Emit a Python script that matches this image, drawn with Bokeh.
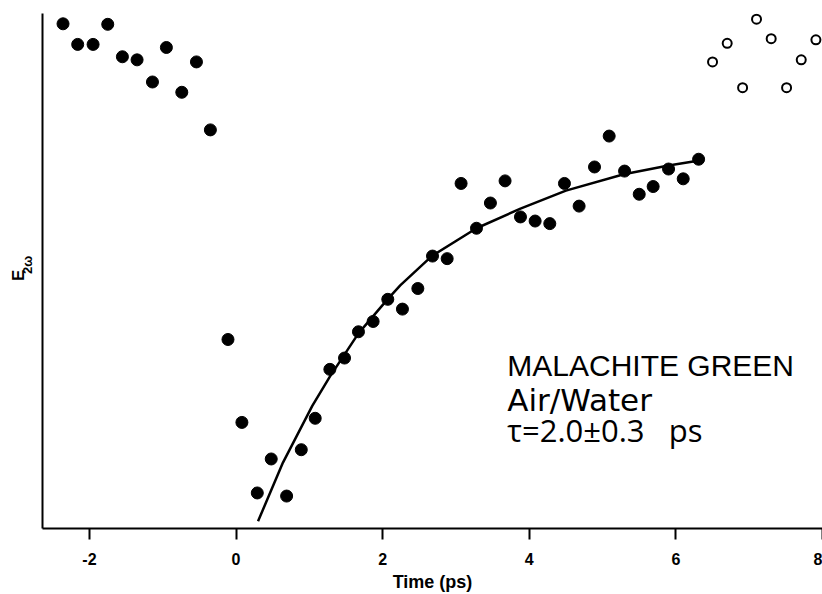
from bokeh.plotting import figure
from bokeh.models import FixedTicker, Range1d
from bokeh.layouts import row
from bokeh.core.properties import value
from bokeh.embed import file_html
from bokeh.resources import INLINE

# Measured data (time in ps, signal in arbitrary units 0-100)
t_filled = [-2.36, -2.16, -1.95, -1.75, -1.55, -1.35, -1.14, -0.95, -0.74, -0.54, -0.35,
            -0.11, 0.08, 0.29, 0.48, 0.69, 0.89, 1.08, 1.28, 1.48, 1.67, 1.87, 2.07, 2.27,
            2.48, 2.68, 2.88, 3.07, 3.28, 3.47, 3.67, 3.88, 4.08, 4.28, 4.48, 4.68, 4.89,
            5.09, 5.30, 5.50, 5.69, 5.90, 6.10, 6.31]
y_filled = [98.0, 94.0, 94.0, 97.9, 91.6, 91.0, 86.7, 93.4, 84.7, 90.6, 77.4,
            36.7, 20.6, 6.9, 13.5, 6.3, 15.3, 21.4, 30.9, 33.1, 38.2, 40.2, 44.5, 42.6,
            46.6, 52.9, 52.4, 67.0, 58.3, 63.2, 67.5, 60.5, 59.7, 59.2, 67.0, 62.6, 70.2,
            76.2, 69.4, 64.9, 66.4, 69.8, 67.9, 71.7]

t_open = [6.50, 6.70, 6.91, 7.10, 7.30, 7.51, 7.71, 7.91]
y_open = [90.6, 94.2, 85.6, 98.9, 95.1, 85.6, 91.0, 94.9]

# Fitted curve
t_fit = [0.30, 0.64, 1.04, 1.28, 1.67, 2.06, 2.24, 2.67, 3.28, 3.88, 4.50, 5.29, 5.90, 6.30]
y_fit = [1.4, 12.8, 23.8, 29.5, 37.9, 44.4, 47.2, 52.9, 58.3, 62.1, 65.6, 68.8, 70.5, 71.4]

x_ticks = [-2, 0, 2, 4, 6, 8]
x_tick_labels = {-2: "-2"}

annot_lines = ["MALACHITE GREEN", "Air/Water", "\u03c4=2.0\u00b10.3\u00a0\u00a0 ps"]

# ---- narrow panel holding the rotated y label ----
lab = figure(width=36, height=594, x_range=Range1d(0, 36), y_range=Range1d(0, 594),
             output_backend="svg", toolbar_location=None, x_axis_type=None, y_axis_type=None,
             min_border_left=0, min_border_right=0, min_border_top=0, min_border_bottom=0)
lab.outline_line_color = None
lab.grid.visible = False
lab.text(x=[17.5], y=[292.0], text=["E"], angle=1.5708, text_font=value("Liberation Sans"),
         text_font_style="bold", text_font_size="17px", text_color="black",
         text_align="center", text_baseline="middle")
lab.text(x=[26.9], y=[304.1], text=["2\u03c9"], angle=1.5708, text_font=value("Liberation Sans"),
         text_font_style="bold", text_font_size="13px", text_color="black",
         text_align="center", text_baseline="middle")

# ---- main plot ----
p = figure(width=786, height=594, x_range=Range1d(-2.64, 8.0), y_range=Range1d(0, 100),
           output_backend="svg", toolbar_location=None,
           min_border_left=6, min_border_right=0, min_border_top=13, min_border_bottom=61)
p.outline_line_color = None
p.grid.visible = False

xa = p.xaxis[0]
xa.ticker = FixedTicker(ticks=x_ticks)
xa.major_label_overrides = x_tick_labels
xa.axis_line_width = 2
xa.axis_line_color = "black"
xa.major_tick_line_width = 2
xa.major_tick_out = 11
xa.major_tick_in = 0
xa.minor_tick_line_color = None
xa.major_label_text_font = "Liberation Sans"
xa.major_label_text_font_style = "bold"
xa.major_label_text_font_size = "16px"
xa.major_label_text_color = "black"
xa.major_label_standoff = 13
xa.axis_label = "Time (ps)"
xa.axis_label_text_font = "Liberation Sans"
xa.axis_label_text_font_style = "bold"
xa.axis_label_text_font_size = "18px"
xa.axis_label_text_color = "black"
xa.axis_label_standoff = 4

ya = p.yaxis[0]
ya.ticker = FixedTicker(ticks=[])
ya.axis_line_width = 2
ya.axis_line_color = "black"
ya.major_tick_line_color = None
ya.minor_tick_line_color = None
ya.major_tick_out = 0
ya.major_tick_in = 0
ya.major_label_standoff = 0
ya.major_label_text_font_size = "0px"

p.line(t_fit, y_fit, line_color="black", line_width=2.5)
p.scatter(t_filled, y_filled, size=12, marker="circle", fill_color="black", line_color="black")
p.scatter(t_open, y_open, size=9, marker="circle", fill_color="white", line_color="black", line_width=2)

# annotation block (positions are cap-centres)
p.text(x=[3.70], y=[31.6], text=[annot_lines[0]], text_font=value("Liberation Sans"),
       text_font_size="30px", text_color="black", text_baseline="middle")
p.text(x=[3.70], y=[24.9], text=[annot_lines[1]], text_font=value("DejaVu Sans"),
       text_font_size="31px", text_color="black", text_baseline="middle")
p.text(x=[3.70], y=[19.1], text=[annot_lines[2]], text_font=value("Open Sans"),
       text_font_size="31px", text_color="black", text_baseline="middle")

layout = row(lab, p, spacing=0)
open("out.html", "w").write(file_html(layout, INLINE))
